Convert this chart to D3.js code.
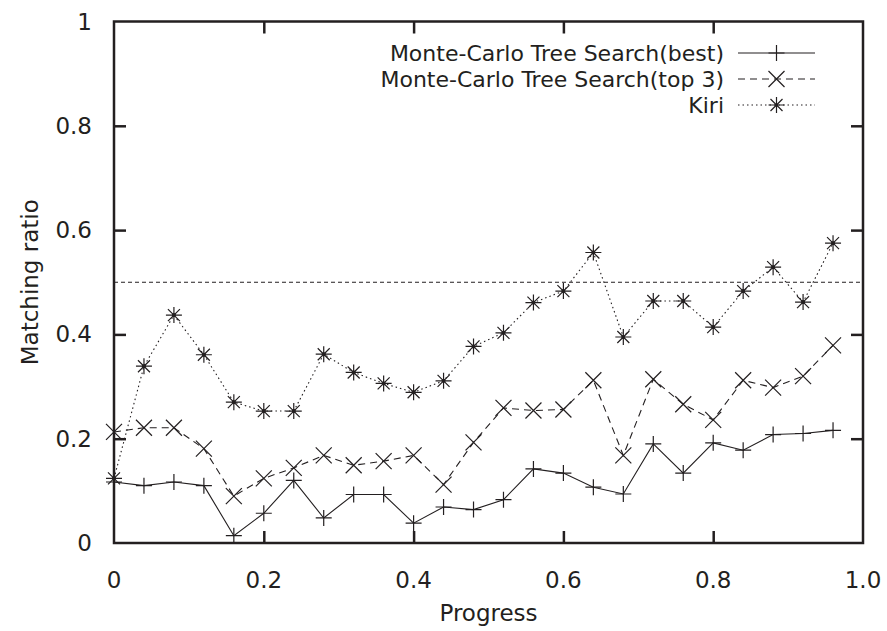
<!DOCTYPE html>
<html>
<head>
<meta charset="utf-8">
<script src="https://cdn.jsdelivr.net/npm/d3@7"></script>
<style>
  body { margin: 0; background: #fff; }
  svg { display: block; font-family: "DejaVu Sans", sans-serif; }
  .lbl { fill: #231f20; }
</style>
</head>
<body>
<div id="chart"></div>
<script>
// Matching ratio vs game progress, three players

const progress = d3.range(25).map(i => i * 0.04);
const mctsBest = [0.117, 0.110, 0.117, 0.110, 0.014, 0.057, 0.120, 0.048, 0.093, 0.093, 0.038, 0.069, 0.064,
  0.083, 0.142, 0.134, 0.107, 0.094, 0.190, 0.134, 0.192, 0.178, 0.208, 0.210, 0.216];
const mctsTop3 = [0.213, 0.221, 0.221, 0.181, 0.090, 0.124, 0.144, 0.168, 0.149, 0.157, 0.168, 0.112, 0.193,
  0.259, 0.254, 0.256, 0.312, 0.168, 0.314, 0.266, 0.236, 0.312, 0.298, 0.320, 0.379];
const kiri = [0.124, 0.339, 0.437, 0.361, 0.270, 0.253, 0.253, 0.362, 0.327, 0.306, 0.289, 0.311, 0.377,
  0.403, 0.461, 0.483, 0.557, 0.395, 0.464, 0.464, 0.414, 0.483, 0.529, 0.462, 0.575];
const refLine = 0.5;
const xTicks = [0, 0.2, 0.4, 0.6, 0.8, 1.0];
const xTickLabels = ["0", "0.2", "0.4", "0.6", "0.8", "1.0"];
const yTicks = [0, 0.2, 0.4, 0.6, 0.8, 1];
const yTickLabels = ["0", "0.2", "0.4", "0.6", "0.8", "1"];
const seriesNames = ["Monte-Carlo Tree Search(best)", "Monte-Carlo Tree Search(top 3)", "Kiri"];

const W = 887, H = 631;
const margin = { top: 21.5, right: 24, bottom: 88, left: 114 };
const ink = "#231f20";
const fs = 23, legFs = 22;

const svg = d3.select("#chart").append("svg").attr("width", W).attr("height", H);

const x = d3.scaleLinear().domain([0, 1]).range([margin.left, W - margin.right]);
const y = d3.scaleLinear().domain([0, 1]).range([H - margin.bottom, margin.top]);

const series = [
  { name: seriesNames[0], values: mctsBest, dash: null, marker: "plus" },
  { name: seriesNames[1], values: mctsTop3, dash: "7 5", marker: "cross" },
  { name: seriesNames[2], values: kiri, dash: "1.5 3", marker: "star" }
];

// marker paths
const s = 8;
const markerPath = {
  plus: `M${-s},0H${s}M0,${-s}V${s}`,
  cross: `M${-s},${-s}L${s},${s}M${-s},${s}L${s},${-s}`,
  star: `M${-s},0H${s}M0,${-s}V${s}M${-s * 0.75},${-s * 0.75}L${s * 0.75},${s * 0.75}M${-s * 0.75},${s * 0.75}L${s * 0.75},${-s * 0.75}`
};

// reference line at 0.5
svg.append("line")
  .attr("x1", x(0)).attr("x2", x(1))
  .attr("y1", y(refLine)).attr("y2", y(refLine))
  .attr("stroke", ink).attr("stroke-width", 1).attr("stroke-dasharray", "4 3");

const line = d3.line().x((d, i) => x(progress[i])).y(d => y(d));

series.forEach(sr => {
  const g = svg.append("g");
  g.append("path")
    .attr("d", line(sr.values))
    .attr("fill", "none").attr("stroke", ink).attr("stroke-width", 1.1)
    .attr("stroke-dasharray", sr.dash);
  g.selectAll("path.mk").data(sr.values).join("path").attr("class", "mk")
    .attr("transform", (d, i) => `translate(${x(progress[i])},${y(d)})`)
    .attr("d", markerPath[sr.marker])
    .attr("stroke", ink).attr("stroke-width", 1.2).attr("fill", "none");
  if (sr.marker === "star") {
    g.selectAll("circle").data(sr.values).join("circle")
      .attr("cx", (d, i) => x(progress[i])).attr("cy", d => y(d)).attr("r", 2).attr("fill", ink);
  }
});

// frame with inward ticks on all four sides
const tickLen = 12;
const axB = svg.append("g").attr("transform", `translate(0,${y(0)})`)
  .call(d3.axisTop(x).tickValues(xTicks.slice(1, -1)).tickSize(tickLen).tickFormat(""));
const axT = svg.append("g").attr("transform", `translate(0,${y(1)})`)
  .call(d3.axisBottom(x).tickValues(xTicks.slice(1, -1)).tickSize(tickLen).tickFormat(""));
const axL = svg.append("g").attr("transform", `translate(${x(0)},0)`)
  .call(d3.axisRight(y).tickValues(yTicks.slice(1, -1)).tickSize(tickLen).tickFormat(""));
const axR = svg.append("g").attr("transform", `translate(${x(1)},0)`)
  .call(d3.axisLeft(y).tickValues(yTicks.slice(1, -1)).tickSize(tickLen).tickFormat(""));
[axB, axT, axL, axR].forEach(a => {
  a.select(".domain").remove();
  a.selectAll("line").attr("stroke", ink).attr("stroke-width", 2.5);
});
svg.append("rect")
  .attr("x", x(0)).attr("y", y(1)).attr("width", x(1) - x(0)).attr("height", y(0) - y(1))
  .attr("fill", "none").attr("stroke", ink).attr("stroke-width", 2.5);

// tick labels
svg.append("g").selectAll("text").data(xTicks).join("text").attr("class", "lbl")
  .attr("x", d => x(d)).attr("y", y(0) + 37).attr("dy", "0.35em")
  .attr("text-anchor", "middle").attr("font-size", fs)
  .text((d, i) => xTickLabels[i]);
svg.append("g").selectAll("text").data(yTicks).join("text").attr("class", "lbl")
  .attr("x", x(0) - 22).attr("y", d => y(d)).attr("dy", "0.35em")
  .attr("text-anchor", "end").attr("font-size", fs)
  .text((d, i) => yTickLabels[i]);

// axis titles
svg.append("text").attr("class", "lbl")
  .attr("x", (x(0) + x(1)) / 2).attr("y", 613).attr("dy", "0.35em")
  .attr("text-anchor", "middle").attr("font-size", fs).text("Progress");
svg.append("text").attr("class", "lbl")
  .attr("transform", `translate(30,${(y(0) + y(1)) / 2}) rotate(-90)`).attr("dy", "0.35em")
  .attr("text-anchor", "middle").attr("font-size", fs).text("Matching ratio");

// legend
const legX = 724, legY0 = 53, legDy = 26, sample = [738, 815];
series.forEach((sr, i) => {
  const ly = legY0 + i * legDy;
  svg.append("text").attr("class", "lbl")
    .attr("x", legX).attr("y", ly).attr("dy", "0.35em")
    .attr("text-anchor", "end").attr("font-size", legFs).text(sr.name);
  svg.append("line").attr("x1", sample[0]).attr("x2", sample[1]).attr("y1", ly).attr("y2", ly)
    .attr("stroke", ink).attr("stroke-width", 1.1).attr("stroke-dasharray", sr.dash);
  svg.append("path").attr("transform", `translate(${(sample[0] + sample[1]) / 2},${ly})`)
    .attr("d", markerPath[sr.marker]).attr("stroke", ink).attr("stroke-width", 1.2).attr("fill", "none");
});
</script>
</body>
</html>
